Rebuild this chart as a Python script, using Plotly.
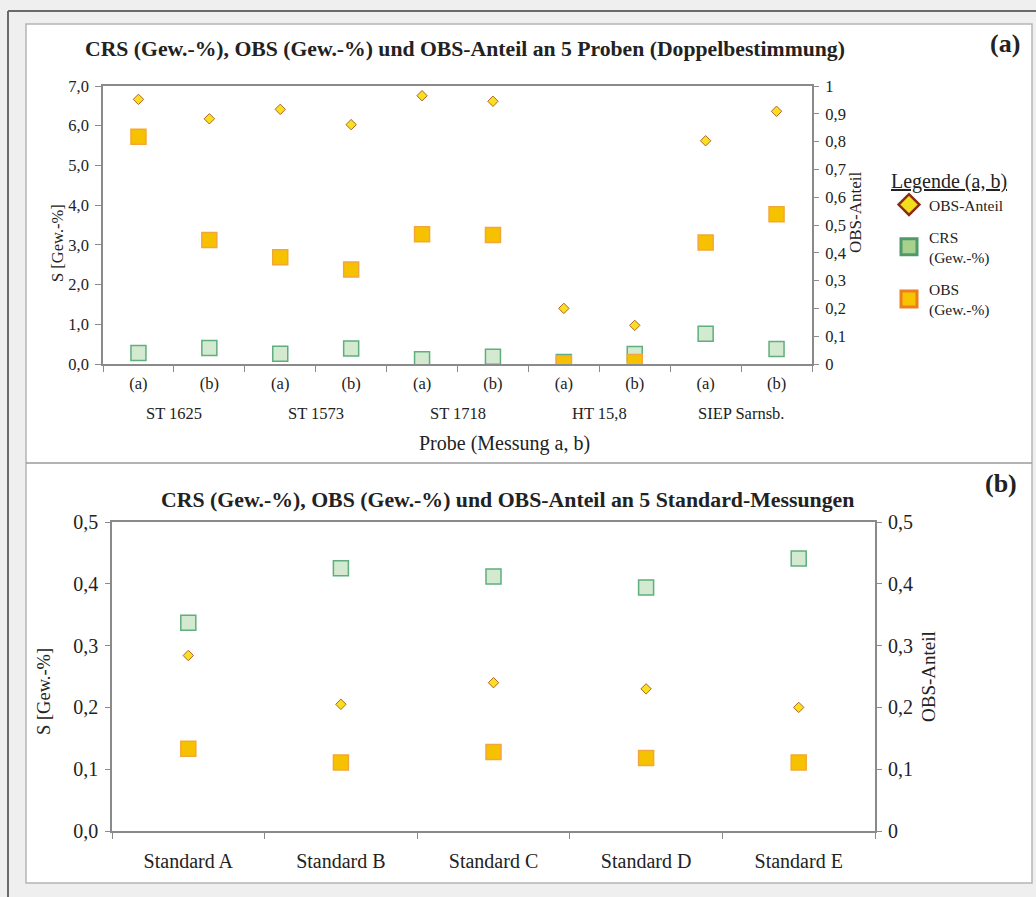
import plotly.graph_objects as go

# ---------------- data ----------------
samples = ["ST 1625", "ST 1573", "ST 1718", "HT 15,8", "SIEP Sarnsb."]
measure_labels = ["(a)", "(b)", "(a)", "(b)", "(a)", "(b)", "(a)", "(b)", "(a)", "(b)"]
obs_anteil_top = [0.952, 0.882, 0.916, 0.861, 0.965, 0.945, 0.200, 0.139, 0.803, 0.909]
crs_top = [0.28, 0.40, 0.26, 0.39, 0.12, 0.18, 0.05, 0.25, 0.76, 0.38]
obs_top = [5.72, 3.12, 2.69, 2.38, 3.27, 3.25, 0.02, 0.05, 3.06, 3.77]

standards = ["Standard A", "Standard B", "Standard C", "Standard D", "Standard E"]
crs_bot = [0.337, 0.425, 0.412, 0.394, 0.441]
obs_anteil_bot = [0.284, 0.205, 0.240, 0.230, 0.200]
obs_bot = [0.133, 0.111, 0.128, 0.118, 0.111]

left_top_ticks = [0, 1, 2, 3, 4, 5, 6, 7]
right_top_ticks = [0, 0.1, 0.2, 0.3, 0.4, 0.5, 0.6, 0.7, 0.8, 0.9, 1.0]
right_top_text = ["0", "0,1", "0,2", "0,3", "0,4", "0,5", "0,6", "0,7", "0,8", "0,9", "1"]
bot_ticks = [0, 0.1, 0.2, 0.3, 0.4, 0.5]
right_bot_text = ["0", "0,1", "0,2", "0,3", "0,4", "0,5"]

# ---------------- styling ----------------
FONT = "Liberation Serif"
W, H = 1036, 897
AX = "#8a8a8a"
TXT = "#222222"

def px(x):
    return x / W

def py(y):
    return 1 - y / H

dia_mk = dict(symbol="diamond", size=8, color="#f6e11c", line=dict(color="#b2622a", width=1))
crs_mk = dict(symbol="square", size=15, color="#d3ead0", line=dict(color="#5fae7e", width=1.5))
obs_mk = dict(symbol="square", size=15, color="#f6c200", line=dict(color="#f3a73a", width=1.5))

xt = list(range(len(measure_labels)))
xb = list(range(len(standards)))

fig = go.Figure()

# top chart
fig.add_trace(go.Scatter(x=xt, y=crs_top, mode="markers", marker=crs_mk,
                         xaxis="x", yaxis="y", showlegend=False))
fig.add_trace(go.Scatter(x=xt, y=obs_top, mode="markers", marker=obs_mk,
                         xaxis="x", yaxis="y", showlegend=False))
fig.add_trace(go.Scatter(x=xt, y=obs_anteil_top, mode="markers", marker=dia_mk,
                         xaxis="x", yaxis="y2", showlegend=False))

# bottom chart
fig.add_trace(go.Scatter(x=xb, y=crs_bot, mode="markers", marker=crs_mk,
                         xaxis="x2", yaxis="y3", showlegend=False))
fig.add_trace(go.Scatter(x=xb, y=obs_bot, mode="markers", marker=obs_mk,
                         xaxis="x2", yaxis="y3", showlegend=False))
fig.add_trace(go.Scatter(x=xb, y=obs_anteil_bot, mode="markers", marker=dia_mk,
                         xaxis="x2", yaxis="y4", showlegend=False))

# legend-only entries
fig.add_trace(go.Scatter(x=[None], y=[None], mode="markers", name="OBS-Anteil",
                         marker=dict(symbol="diamond", size=16, color="#f0df1a",
                                     line=dict(color="#8b2a16", width=2.5)),
                         xaxis="x", yaxis="y", legendgroup="g1"))
fig.add_trace(go.Scatter(x=[None], y=[None], mode="markers", name="CRS<br>(Gew.-%)",
                         marker=dict(symbol="square", size=16, color="#a9d18e",
                                     line=dict(color="#4e9a6a", width=3)),
                         xaxis="x", yaxis="y", legendgroup="g2"))
fig.add_trace(go.Scatter(x=[None], y=[None], mode="markers", name="OBS<br>(Gew.-%)",
                         marker=dict(symbol="square", size=16, color="#f7c400",
                                     line=dict(color="#ee7d20", width=3)),
                         xaxis="x", yaxis="y", legendgroup="g3"))

tick_top = dict(family=FONT, size=16.5, color=TXT)
tick_bot = dict(family=FONT, size=20, color=TXT)

def xaxis_cfg(n, labels, dom, anchor, standoff, tf):
    bounds = [i - 0.5 for i in range(n + 1)]
    return dict(domain=dom, anchor=anchor, range=[-0.5, n - 0.5], automargin=False,
                tickmode="array", tickvals=list(range(n)), ticktext=labels,
                ticks="", showgrid=False, zeroline=False,
                showline=True, linecolor=AX, linewidth=1.5, mirror=True,
                tickfont=tf, ticklabelstandoff=standoff,
                minor=dict(tickmode="array", tickvals=bounds, ticks="outside",
                           ticklen=6, tickcolor=AX, tickwidth=1, showgrid=False))

fig.update_layout(
    width=W, height=H,
    margin=dict(l=0, r=0, t=0, b=0, pad=0, autoexpand=False),
    paper_bgcolor="#efefef",
    plot_bgcolor="#e9eaec",
    separators=",.",
    font=dict(family=FONT, color=TXT),
    xaxis=xaxis_cfg(len(measure_labels), measure_labels, [px(103), px(812)], "y", 3, tick_top),
    yaxis=dict(domain=[py(364), py(86)], anchor="x", range=[0, 7], automargin=False,
               tickmode="array", tickvals=left_top_ticks, tickformat=".1f",
               ticks="outside", ticklen=6, tickcolor=AX, showgrid=False, zeroline=False,
               showline=True, linecolor=AX, linewidth=1.5, mirror=True,
               tickfont=tick_top, ticklabelstandoff=3),
    yaxis2=dict(overlaying="y", side="right", anchor="x", range=[0, 1], automargin=False,
                tickmode="array", tickvals=right_top_ticks, ticktext=right_top_text,
                ticks="outside", ticklen=6, tickcolor=AX, showgrid=False, zeroline=False,
                showline=False, tickfont=tick_top, ticklabelstandoff=3),
    xaxis2=xaxis_cfg(len(standards), standards, [px(112), px(875)], "y3", 11, tick_bot),
    yaxis3=dict(domain=[py(831), py(522)], anchor="x2", range=[0, 0.5], automargin=False,
                tickmode="array", tickvals=bot_ticks, tickformat=".1f",
                ticks="outside", ticklen=5, tickcolor=AX, showgrid=False, zeroline=False,
                showline=True, linecolor=AX, linewidth=1.5, mirror=True,
                tickfont=tick_bot, ticklabelstandoff=3),
    yaxis4=dict(overlaying="y3", side="right", anchor="x2", range=[0, 0.5], automargin=False,
                tickmode="array", tickvals=bot_ticks, ticktext=right_bot_text,
                ticks="outside", ticklen=6, tickcolor=AX, showgrid=False, zeroline=False,
                showline=False, tickfont=tick_bot, ticklabelstandoff=2),
    legend=dict(x=px(889), y=py(162), xanchor="left", yanchor="top",
                bgcolor="rgba(0,0,0,0)", tracegroupgap=9,
                title=dict(text="<u>Legende (a, b)</u>",
                           font=dict(family=FONT, size=20, color=TXT), side="top"),
                font=dict(family=FONT, size=15.5, color=TXT),
                itemsizing="trace"),
)

# frame shapes
shapes = [
    dict(type="rect", xref="paper", yref="paper", x0=px(26), x1=px(1032), y0=py(883), y1=py(24),
         fillcolor="white", line=dict(color="#b5b5b5", width=1.5), layer="below"),
    dict(type="line", xref="paper", yref="paper", x0=px(26), x1=px(1032), y0=py(463), y1=py(463),
         line=dict(color="#9a9a9a", width=1.5), layer="below"),
    dict(type="line", xref="paper", yref="paper", x0=px(8), x1=px(1036), y0=py(11), y1=py(11),
         line=dict(color="#6a6a6a", width=2), layer="below"),
    dict(type="line", xref="paper", yref="paper", x0=px(8), x1=px(8), y0=0, y1=py(11),
         line=dict(color="#6a6a6a", width=2), layer="below"),
]
fig.update_layout(shapes=shapes)

ann = []
# group labels (top chart)
for i, s in enumerate(samples):
    ann.append(dict(x=(2 * i + 2 * i + 1) / 2, xref="x", y=py(413), yref="paper",
                    text=s, showarrow=False, font=dict(family=FONT, size=16.5, color=TXT),
                    xanchor="center", yanchor="middle"))
ann += [
    dict(x=px(465), y=py(49), text="<b>CRS (Gew.-%), OBS (Gew.-%) und OBS-Anteil an 5 Proben (Doppelbestimmung)</b>",
         font=dict(family=FONT, size=21.7, color=TXT)),
    dict(x=px(1005), y=py(43), text="<b>(a)</b>", font=dict(family=FONT, size=26, color=TXT)),
    dict(x=px(504), y=py(443), text="Probe (Messung a, b)", font=dict(family=FONT, size=20, color=TXT)),
    dict(x=px(57), y=py(243), text="S [Gew.-%]", textangle=-90, font=dict(family=FONT, size=16.5, color=TXT)),
    dict(x=px(855), y=py(212), text="OBS-Anteil", textangle=-90, font=dict(family=FONT, size=17, color=TXT)),
    dict(x=px(507), y=py(500), text="<b>CRS (Gew.-%), OBS (Gew.-%) und OBS-Anteil an 5 Standard-Messungen</b>",
         font=dict(family=FONT, size=21.8, color=TXT)),
    dict(x=px(1001), y=py(483), text="<b>(b)</b>", font=dict(family=FONT, size=26, color=TXT)),
    dict(x=px(44), y=py(692), text="S [Gew.-%]", textangle=-90, font=dict(family=FONT, size=18.5, color=TXT)),
    dict(x=px(928), y=py(677), text="OBS-Anteil", textangle=-90, font=dict(family=FONT, size=19, color=TXT)),
]
for a in ann[len(samples):]:
    a.update(xref="paper", yref="paper", showarrow=False, xanchor="center", yanchor="middle")
fig.update_layout(annotations=ann)

post = (
    "document.documentElement.style.margin='0';"
    "document.documentElement.style.padding='0';"
    "document.documentElement.style.overflow='hidden';"
    "document.body.style.margin='0';"
    "document.body.style.padding='0';"
    "document.body.style.overflow='hidden';"
    "var gd=document.getElementById('{plot_id}');"
    "gd.style.position='fixed';gd.style.top='0px';gd.style.left='0px';"
)
fig.write_html("out.html", config={"displayModeBar": False}, post_script=post)
